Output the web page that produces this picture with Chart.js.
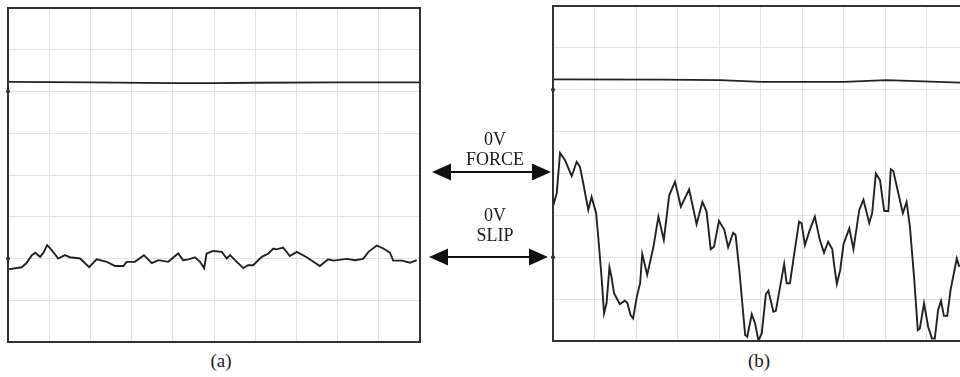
<!DOCTYPE html>
<html>
<head>
<meta charset="utf-8">
<script src="https://cdn.jsdelivr.net/npm/chart.js@4"></script>
<style>
  body { margin: 0; width: 960px; height: 377px; overflow: hidden; background: #fff; position: relative; font-family: "Liberation Serif", "DejaVu Serif", serif; color: #1a1a1a; }
  .panel { position: absolute; }
  #wrapA { left: 6px; top: 6px; width: 416px; height: 338px; }
  #wrapB { left: 551px; top: 4px; width: 419px; height: 339px; }
  .lbl { position: absolute; text-align: center; font-size: 18px; line-height: 20px; width: 120px; }
  .cap { position: absolute; font-size: 19px; width: 40px; text-align: center; }
  svg { position: absolute; left: 0; top: 0; }
</style>
</head>
<body>
<div class="panel" id="wrapA"><canvas id="chartA"></canvas></div>
<div class="panel" id="wrapB"><canvas id="chartB"></canvas></div>

<div class="lbl" style="left:435px; top:129px;">0V<br>FORCE</div>
<div class="lbl" style="left:435px; top:205px;">0V<br>SLIP</div>
<div class="cap" style="left:201px; top:350px;">(a)</div>
<div class="cap" style="left:739px; top:350px;">(b)</div>

<svg width="960" height="377">
  <line x1="445" y1="172" x2="538" y2="172" stroke="#111" stroke-width="2"/>
  <polygon points="432,172 451,163.5 451,180.5" fill="#111"/>
  <polygon points="551,172 532,163.5 532,180.5" fill="#111"/>
  <line x1="442" y1="257" x2="536" y2="257" stroke="#111" stroke-width="2"/>
  <polygon points="429,257 448,248.5 448,265.5" fill="#111"/>
  <polygon points="548,257 529,248.5 529,265.5" fill="#111"/>
</svg>

<script>
// panel (a): x in grid divisions (0-10), y in grid divisions (0-8)
const aForceX = [0, 2, 4, 5, 6, 8, 10];
const aForceY = [6.23, 6.22, 6.2, 6.2, 6.21, 6.22, 6.22];

const aSlipX = [0, 0.33, 0.45, 0.58, 0.66, 0.78, 0.86, 0.95, 1.06, 1.22, 1.38, 1.5, 1.75, 1.97, 2.15, 2.4, 2.6, 2.8, 2.88, 3.08,
  3.3, 3.49, 3.65, 3.89, 4.13, 4.25, 4.38, 4.54, 4.66, 4.76, 4.82, 4.98, 5.19, 5.31, 5.39, 5.51, 5.71, 5.83, 5.95, 6.16,
  6.32, 6.44, 6.52, 6.68, 6.84, 7.01, 7.25, 7.57, 7.77, 7.9, 8.22, 8.42, 8.62, 8.75, 8.95, 9.11, 9.27, 9.35, 9.56, 9.76, 9.92];
const aSlipY = [1.74, 1.79, 1.89, 2.08, 2.14, 2.04, 2.14, 2.32, 2.2, 2.0, 2.08, 2.03, 2.0, 1.79, 1.98, 1.92, 1.82, 1.82, 1.92, 1.92,
  2.08, 1.89, 1.96, 1.92, 2.12, 1.96, 1.98, 2.03, 1.92, 1.77, 2.12, 2.18, 2.16, 2.0, 2.08, 1.96, 1.77, 1.84, 1.84, 2.04,
  2.12, 2.24, 2.22, 2.26, 2.06, 2.16, 2.03, 1.82, 1.98, 1.95, 1.99, 1.96, 1.99, 2.16, 2.31, 2.24, 2.14, 1.95, 1.95, 1.9, 1.96];

// panel (b)
const bForceX = [0, 2.62, 4.02, 5.03, 7.02, 8.04, 9.81, 10];
const bForceY = [6.25, 6.24, 6.23, 6.19, 6.19, 6.23, 6.17, 6.17];

const bSlipX = [0, 0.09, 0.17, 0.29, 0.45, 0.57, 0.65, 0.73, 0.85, 0.93, 1.04, 1.09, 1.17, 1.23, 1.29, 1.36, 1.41, 1.47, 1.61, 1.73,
  1.79, 1.87, 1.93, 2.02, 2.1, 2.15, 2.27, 2.42, 2.54, 2.67, 2.8, 2.94, 3.08, 3.28, 3.46, 3.6, 3.7, 3.8, 3.88, 4.0,
  4.13, 4.22, 4.34, 4.4, 4.49, 4.63, 4.68, 4.79, 4.87, 4.95, 5.03, 5.13, 5.19, 5.31, 5.37, 5.57, 5.63, 5.71, 5.79, 5.93,
  5.99, 6.07, 6.18, 6.31, 6.43, 6.53, 6.63, 6.73, 6.77, 6.84, 6.92, 7.0, 7.14, 7.24, 7.38, 7.48, 7.62, 7.69, 7.78, 7.88,
  7.98, 8.08, 8.14, 8.2, 8.43, 8.52, 8.6, 8.7, 8.79, 8.84, 8.94, 9.04, 9.13, 9.2, 9.28, 9.35, 9.42, 9.5, 9.58, 9.73, 9.79];
const bSlipY = [3.21, 3.53, 4.49, 4.32, 3.94, 4.28, 4.16, 3.76, 3.13, 3.44, 3.05, 2.49, 1.53, 0.66, 0.9, 1.76, 1.53, 1.14, 0.88, 0.96,
  0.91, 0.62, 0.54, 1.06, 1.38, 2.08, 1.58, 2.25, 2.97, 2.41, 3.48, 3.8, 3.21, 3.62, 2.79, 3.32, 3.09, 2.19, 2.25, 2.87,
  2.65, 2.24, 2.58, 2.53, 1.69, 0.14, 0.1, 0.64, 0.42, 0.01, 0.18, 1.12, 1.2, 0.7, 0.72, 1.84, 1.38, 1.38, 1.93, 2.85,
  2.81, 2.29, 2.63, 2.97, 2.41, 2.11, 2.37, 2.19, 1.85, 1.36, 1.69, 2.31, 2.69, 2.19, 3.13, 3.37, 2.82, 3.05, 4.0, 3.84,
  3.11, 3.1, 4.1, 4.06, 3.05, 3.32, 2.73, 1.53, 0.26, 0.3, 0.9, 0.34, 0.06, 0.06, 0.74, 0.96, 0.6, 0.6, 1.22, 1.97, 1.77];

// 0V reference levels marked on the left edge
const zeroLevels = [6, 2];

function pts(xs, ys) {
  return xs.map((x, i) => ({ x: x, y: ys[i] }));
}

const framePlugin = {
  id: 'frame',
  afterDatasetsDraw(chart) {
    const a = chart.chartArea;
    const ctx = chart.ctx;
    ctx.save();
    ctx.strokeStyle = '#333';
    ctx.lineWidth = 2;
    ctx.strokeRect(a.left, a.top, a.right - a.left, a.bottom - a.top);
    ctx.restore();
  }
};

function makeChart(id, force, slip) {
  return new Chart(document.getElementById(id), {
    type: 'line',
    data: {
      datasets: [
        { data: force, borderColor: '#222', borderWidth: 1.8, pointRadius: 0, tension: 0 },
        { data: slip, borderColor: '#222', borderWidth: 1.9, pointRadius: 0, tension: 0 },
        { data: zeroLevels.map(v => ({ x: 0, y: v })), showLine: false, pointRadius: 2,
          pointBackgroundColor: '#222', pointBorderWidth: 0, clip: false }
      ]
    },
    options: {
      responsive: true,
      maintainAspectRatio: false,
      animation: false,
      layout: { padding: 2, autoPadding: false },
      plugins: { legend: { display: false }, tooltip: { enabled: false } },
      scales: {
        x: {
          type: 'linear', min: 0, max: 10,
          ticks: { display: false, stepSize: 1 },
          grid: { color: '#e2e2e2', drawTicks: false },
          border: { display: false }
        },
        y: {
          type: 'linear', min: 0, max: 8,
          ticks: { display: false, stepSize: 1 },
          grid: { color: '#e2e2e2', drawTicks: false },
          border: { display: false }
        }
      }
    },
    plugins: [framePlugin]
  });
}

makeChart('chartA', pts(aForceX, aForceY), pts(aSlipX, aSlipY));
makeChart('chartB', pts(bForceX, bForceY), pts(bSlipX, bSlipY));
</script>
</body>
</html>
